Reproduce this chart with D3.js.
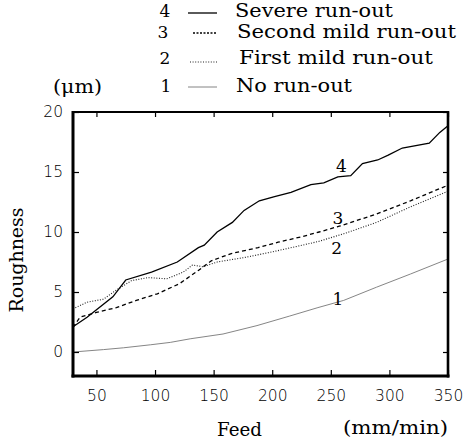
<!DOCTYPE html>
<html>
<head>
<meta charset="utf-8">
<script src="https://cdn.jsdelivr.net/npm/d3@7"></script>
<style>
  html, body { margin: 0; padding: 0; background: #fff; }
  svg { display: block; }
  .serif { font-family: "DejaVu Serif", "Liberation Serif", serif; fill: #000; }
  .tick text { font-family: "DejaVu Sans", sans-serif; font-weight: 200; font-size: 15.5px; fill: #000; }
</style>
</head>
<body>
<svg id="chart" width="463" height="443"></svg>
<script>
// ---- data ----
const feed4 = [30, 42, 64, 75, 97, 119, 137, 142, 153, 166, 176, 189, 202, 216, 233, 244, 256, 267, 277, 290, 299, 311, 334, 343, 350];
const severe = [2.1, 2.9, 4.6, 6.0, 6.65, 7.5, 8.7, 8.9, 10.0, 10.8, 11.8, 12.6, 12.95, 13.3, 13.95, 14.1, 14.6, 14.7, 15.7, 16.0, 16.4, 17.0, 17.4, 18.3, 18.85];

const feed3 = [30, 36, 50, 67, 84, 102, 121, 137, 148, 165, 188, 205, 225, 240, 258, 289, 318, 350];
const secondMild = [2.05, 2.9, 3.3, 3.7, 4.3, 4.85, 5.7, 6.8, 7.6, 8.2, 8.7, 9.15, 9.6, 10.0, 10.5, 11.5, 12.6, 13.9];

const feed2 = [30, 42, 56, 66, 80, 94, 110, 124, 132, 141, 153, 175, 198, 221, 239, 261, 289, 318, 350];
const firstMild = [3.6, 4.15, 4.4, 5.1, 5.95, 6.2, 6.1, 6.65, 7.25, 7.1, 7.5, 7.85, 8.3, 8.8, 9.2, 9.85, 10.8, 12.1, 13.4];

const feed1 = [30, 56, 73, 96, 113, 130, 158, 187, 215, 239, 261, 289, 318, 350];
const noRunout = [0.0, 0.2, 0.35, 0.6, 0.8, 1.1, 1.5, 2.2, 3.0, 3.7, 4.3, 5.4, 6.5, 7.75];

const xTicks = [50, 100, 150, 200, 250, 300, 350];
const yTicks = [0, 5, 10, 15, 20];
const seriesNumbers = ["4", "3", "2", "1"];
const seriesNames = ["Severe run-out", "Second mild run-out", "First mild run-out", "No run-out"];
// curve label anchor positions (feed, roughness)
const labelFeed = [259, 256, 255, 256];
const labelRough = [15.5, 11.2, 8.7, 4.45];

// ---- styles ----
const styles = [
  { stroke: "#000", width: 1.3, dash: null },
  { stroke: "#000", width: 1.3, dash: "4,3" },
  { stroke: "#222", width: 1.1, dash: "1,1.6" },
  { stroke: "#777", width: 0.9, dash: null }
];

const svg = d3.select("#chart");
const x = d3.scaleLinear().domain([30, 350]).range([73, 448]);
const y = d3.scaleLinear().domain([-2, 20]).range([376, 112]);

const series = [
  d3.zip(feed4, severe),
  d3.zip(feed3, secondMild),
  d3.zip(feed2, firstMild),
  d3.zip(feed1, noRunout)
];

const line = d3.line().x(d => x(d[0])).y(d => y(d[1]));

series.forEach((s, i) => {
  svg.append("path")
    .datum(s)
    .attr("d", line)
    .attr("fill", "none")
    .attr("stroke", styles[i].stroke)
    .attr("stroke-width", styles[i].width)
    .attr("stroke-dasharray", styles[i].dash);
});

// axes
const gB = svg.append("g").attr("transform", `translate(0,${y(-2)})`)
  .call(d3.axisBottom(x).tickValues(xTicks).tickSizeInner(-6).tickSizeOuter(0).tickPadding(14));
const gL = svg.append("g").attr("transform", `translate(${x(30)},0)`)
  .call(d3.axisLeft(y).tickValues(yTicks).tickSizeInner(-6).tickSizeOuter(0).tickPadding(10));
const gT = svg.append("g").attr("transform", `translate(0,${y(20)})`)
  .call(d3.axisTop(x).tickValues(xTicks).tickSizeInner(-5).tickSizeOuter(0).tickFormat(""));
const gR = svg.append("g").attr("transform", `translate(${x(350)},0)`)
  .call(d3.axisRight(y).tickValues(yTicks).tickSizeInner(-5).tickSizeOuter(0).tickFormat(""));
[gB, gL, gT, gR].forEach(g => {
  g.select(".domain").remove();
  g.selectAll(".tick line").attr("stroke", "#000").attr("stroke-width", 1.2);
});
gB.selectAll(".tick text").attr("dy", "0.71em");

// frame
svg.append("line").attr("x1", x(30)).attr("x2", x(30)).attr("y1", y(20) - 1).attr("y2", y(-2) + 1.5).attr("stroke", "#000").attr("stroke-width", 3);
svg.append("line").attr("x1", x(30) - 1.5).attr("x2", x(350) + 1.5).attr("y1", y(-2)).attr("y2", y(-2)).attr("stroke", "#000").attr("stroke-width", 3);
svg.append("line").attr("x1", x(30)).attr("x2", x(350)).attr("y1", y(20)).attr("y2", y(20)).attr("stroke", "#000").attr("stroke-width", 2);
svg.append("line").attr("x1", x(350)).attr("x2", x(350)).attr("y1", y(20) - 1).attr("y2", y(-2) + 1.5).attr("stroke", "#000").attr("stroke-width", 2.6);

// curve labels
seriesNumbers.forEach((n, i) => {
  svg.append("text").attr("class", "serif")
    .attr("x", x(labelFeed[i])).attr("y", y(labelRough[i]))
    .attr("text-anchor", "middle").attr("dominant-baseline", "central")
    .attr("font-size", 17).text(n);
});

function wideText(tx, ty, str, width, anchor) {
  return svg.append("text").attr("class", "serif")
    .attr("x", tx).attr("y", ty)
    .attr("text-anchor", anchor || "start")
    .attr("font-size", 18)
    .attr("textLength", width).attr("lengthAdjust", "spacingAndGlyphs")
    .text(str);
}

// legend
const legY = [17, 38, 64, 92];
const legLineY = [13, 33, 62, 87];
const legNumX = [165, 163, 165, 166];
const legTextX = [235, 237, 239, 236];
const legTextW = [158, 219, 194, 116];
const legLineX0 = [188, 193, 190, 188];
seriesNumbers.forEach((n, i) => {
  svg.append("text").attr("class", "serif").attr("x", legNumX[i]).attr("y", legY[i])
    .attr("text-anchor", "middle").attr("font-size", 17).text(n);
  svg.append("line").attr("x1", legLineX0[i]).attr("x2", 217).attr("y1", legLineY[i]).attr("y2", legLineY[i])
    .attr("stroke", styles[i].stroke).attr("stroke-width", styles[i].width)
    .attr("stroke-dasharray", i === 1 ? "2,1.5" : styles[i].dash);
  wideText(legTextX[i], legY[i], seriesNames[i], legTextW[i]);
});

// axis titles
wideText(53, 93, "(μm)", 49);
svg.append("text").attr("class", "serif")
  .attr("transform", "translate(23,260) rotate(-90)")
  .attr("text-anchor", "middle").attr("font-size", 18)
  .attr("textLength", 105).attr("lengthAdjust", "spacingAndGlyphs")
  .text("Roughness");
wideText(217, 436, "Feed", 45);
wideText(343, 434, "(mm/min)", 105);
</script>
</body>
</html>
